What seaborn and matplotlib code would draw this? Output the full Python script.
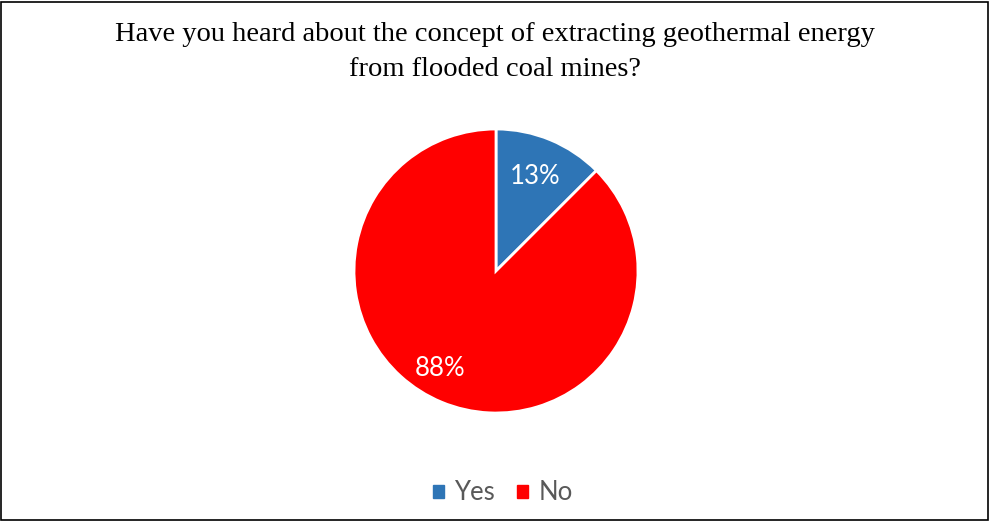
import matplotlib
matplotlib.use("Agg")
import matplotlib.pyplot as plt
import seaborn as sns
import numpy as np
from matplotlib.patches import Rectangle

sns.set_theme(style="white")

categories = ["Yes", "No"]
values = [12.5, 87.5]
labels_pct = ["13%", "88%"]
colors = ["#2E75B6", "#FF0000"]
title = "Have you heard about the concept of extracting geothermal energy\nfrom flooded coal mines?"

W, H = 990, 522
fig = plt.figure(figsize=(W / 100, H / 100), dpi=100)
fig.patch.set_facecolor("white")

cx, cy, r = 496, 271, 142
ax = fig.add_axes([(cx - r) / W, (H - cy - r) / H, 2 * r / W, 2 * r / H])
wedges, _ = ax.pie(values, colors=colors, startangle=90, counterclock=False,
                   radius=1.0, wedgeprops=dict(edgecolor="white", linewidth=2))
ax.set_xlim(-1, 1)
ax.set_ylim(-1, 1)
ax.set_aspect("equal")
ax.axis("off")

# percentage labels
dists = [0.72, 0.79]
for w, lab, d in zip(wedges, labels_pct, dists):
    ang = np.deg2rad((w.theta1 + w.theta2) / 2)
    if lab == "88%":
        ang = np.deg2rad(240)
    ax.text(d * np.cos(ang), d * np.sin(ang), lab, ha="center", va="center",
            color="white", fontsize=18.5, family=["Lato", "DejaVu Sans"])

fig.text(0.5, 1 - 52 / H, title, ha="center", va="center", fontsize=20.5,
         family=["Liberation Serif", "DejaVu Serif"], linespacing=1.55, color="black")

handles = [plt.Rectangle((0, 0), 1, 1, color=c) for c in colors]
leg = fig.legend(handles, categories, loc="center", bbox_to_anchor=(0.508, 1 - 493 / H),
                 ncol=2, frameon=False, handlelength=0.42, handleheight=0.4,
                 handletextpad=0.4, columnspacing=0.85,
                 prop=dict(family=["Lato", "DejaVu Sans"], size=18.5))
for t in leg.get_texts():
    t.set_color("#595959")

fig.patches.append(Rectangle((0.5 / W, 2.5 / H), (W - 3) / W, (H - 4) / H,
                             transform=fig.transFigure, fill=False,
                             edgecolor="black", linewidth=1.2))

fig.savefig("out.png", dpi=100)
